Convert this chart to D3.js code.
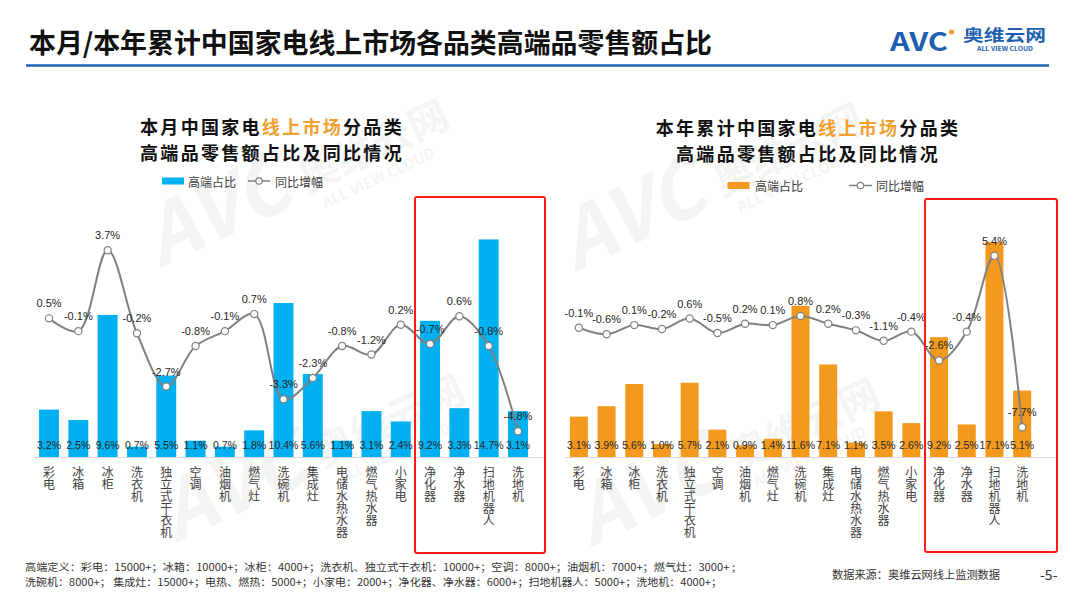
<!DOCTYPE html>
<html><head><meta charset="utf-8">
<script src="https://cdn.jsdelivr.net/npm/d3@7"></script>
<style>
body{margin:0;background:#fff}
svg{display:block}
text{font-family:"Noto Sans CJK SC","Noto Sans",sans-serif}
.num{font-family:"Liberation Sans",Arial,sans-serif}
.vert{writing-mode:vertical-rl;text-orientation:upright}
</style>
</head><body>
<svg id="c" width="1077" height="606"></svg>
<script>
// ---------- data ----------
const categories = ["彩电","冰箱","冰柜","洗衣机","独立式干衣机","空调","油烟机","燃气灶","洗碗机","集成灶","电储水热水器","燃气热水器","小家电","净化器","净水器","扫地机器人","洗地机"];
const monthShare = [3.2,2.5,9.6,0.7,5.5,1.1,0.7,1.8,10.4,5.6,1.1,3.1,2.4,9.2,3.3,14.7,3.1];
const monthYoY   = [0.5,-0.1,3.7,-0.2,-2.7,-0.8,-0.1,0.7,-3.3,-2.3,-0.8,-1.2,0.2,-0.7,0.6,-0.8,-4.8];
const ytdShare   = [3.1,3.9,5.6,1.0,5.7,2.1,0.9,1.4,11.6,7.1,1.1,3.5,2.6,9.2,2.5,17.1,5.1];
const ytdYoY     = [-0.1,-0.6,0.1,-0.2,0.6,-0.5,0.2,0.1,0.8,0.2,-0.3,-1.1,-0.4,-2.6,-0.4,5.4,-7.7];
const legendLabels = ["高端占比","同比增幅"];
const mainTitle = "本月/本年累计中国家电线上市场各品类高端品零售额占比";
const footer1 = "高端定义：彩电：15000+；冰箱：10000+；冰柜：4000+；洗衣机、独立式干衣机：10000+；空调：8000+；油烟机：7000+；燃气灶：3000+ ;";
const footer2 = "洗碗机：8000+； 集成灶：15000+；电热、燃热：5000+；小家电：2000+；净化器、净水器：6000+；扫地机器人：5000+；洗地机：4000+；";
const sourceText = "数据来源：奥维云网线上监测数据";

const svg = d3.select("#c");
svg.append("rect").attr("width",1077).attr("height",606).attr("fill","#fff");

// ---------- watermarks ----------
function watermark(tx, ty){
  const g = svg.append("g").attr("transform",`translate(${tx},${ty}) rotate(-25)`)
    .attr("fill","#7a7a7a").attr("opacity",0.08);
  g.append("text").attr("x",0).attr("y",0).attr("font-size",80).attr("font-weight","bold")
    .attr("font-style","italic").attr("font-family","Liberation Sans, Arial, sans-serif").text("AVC");
  g.append("text").attr("x",165).attr("y",-6).attr("font-size",40).attr("font-weight","bold").text("奥维云网");
  g.append("text").attr("x",175).attr("y",16).attr("font-size",15).attr("font-weight","bold")
    .attr("font-family","Liberation Sans, Arial, sans-serif").text("ALL VIEW CLOUD");
}
watermark(160,268); watermark(575,272); watermark(176,543); watermark(591,547);

// ---------- header ----------
svg.append("text").attr("x",29).attr("y",53).attr("font-size",27).attr("font-weight","bold")
  .attr("fill","#111").attr("textLength",683).attr("lengthAdjust","spacingAndGlyphs").text(mainTitle);
svg.append("line").attr("x1",26).attr("x2",1049).attr("y1",65.5).attr("y2",65.5)
  .attr("stroke","#1f66b3").attr("stroke-width",2.5);
// logo
svg.append("text").attr("x",890).attr("y",51).attr("font-size",25).attr("font-weight","bold")
  .attr("font-family","Liberation Sans, Arial, sans-serif").attr("fill","#1d5fb0")
  .attr("textLength",58).attr("lengthAdjust","spacingAndGlyphs").text("AVC");
svg.append("circle").attr("cx",951.5).attr("cy",32).attr("r",2.6).attr("fill","#f3a02a");
svg.append("text").attr("x",963).attr("y",41).attr("font-size",16).attr("font-weight","bold")
  .attr("fill","#1d5fb0").attr("textLength",83).attr("lengthAdjust","spacingAndGlyphs").text("奥维云网");
svg.append("text").attr("x",977).attr("y",51).attr("font-size",6).attr("font-weight","bold")
  .attr("font-family","Liberation Sans, Arial, sans-serif").attr("fill","#1d5fb0")
  .attr("textLength",56).attr("lengthAdjust","spacingAndGlyphs").text("ALL VIEW CLOUD");

// ---------- panels ----------
const panels = [
  { title1:["本月中国家电","线上市场","分品类"], title2:"高端品零售额占比及同比情况",
    cx:272, t1y:125.8, t2y:152.2, share:monthShare, yoy:monthYoY, color:"#00b0f0",
    band:[34.35,532.65], pin:0.32, barDom:[0,15], barRange:[457,235],
    lineDom:[-6,5], lineRange:[456.8,222.5], axis:[34,545],
    legend:{rx:162, cy:181, t1:188, l1:248, l2:270, t2:275},
    box:[415,197,130,356] },
  { title1:["本年累计中国家电","线上市场","分品类"], title2:"高端品零售额占比及同比情况",
    cx:808, t1y:126.5, t2y:152.9, share:ytdShare, yoy:ytdYoY, color:"#f39a1e",
    band:[565,1036], pin:0.35, barDom:[0,16.5], barRange:[457,242],
    lineDom:[-10,7], lineRange:[457.4,234.7], axis:[565,1057],
    legend:{rx:727.5, cy:185.5, t1:755, l1:849, l2:872, t2:876},
    box:[925,199,132,353] }
];

panels.forEach(p=>{
  // two-line title
  const t1 = svg.append("text").attr("x",p.cx).attr("y",p.t1y).attr("text-anchor","middle")
    .attr("dominant-baseline","central").attr("font-size",18).attr("letter-spacing",2.3)
    .attr("font-weight","bold").attr("fill","#111");
  p.title1.forEach((s,i)=>t1.append("tspan").attr("fill", i===1?"#f0a030":"#111").text(s));
  svg.append("text").attr("x",p.cx).attr("y",p.t2y).attr("text-anchor","middle")
    .attr("dominant-baseline","central").attr("font-size",18).attr("letter-spacing",2.3)
    .attr("font-weight","bold").attr("fill","#111").text(p.title2);

  // legend
  const L = p.legend;
  svg.append("rect").attr("x",L.rx).attr("y",L.cy-3.5).attr("width",22).attr("height",7).attr("fill",p.color);
  svg.append("text").attr("x",L.t1).attr("y",L.cy).attr("dominant-baseline","central").attr("font-size",12).attr("fill","#404040").text(legendLabels[0]);
  svg.append("line").attr("x1",L.l1).attr("x2",L.l2).attr("y1",L.cy).attr("y2",L.cy).attr("stroke","#808080").attr("stroke-width",1.5);
  svg.append("circle").attr("cx",(L.l1+L.l2)/2).attr("cy",L.cy).attr("r",3.2).attr("fill","#fff").attr("stroke","#808080").attr("stroke-width",1.2);
  svg.append("text").attr("x",L.t2).attr("y",L.cy).attr("dominant-baseline","central").attr("font-size",12).attr("fill","#404040").text(legendLabels[1]);

  // scales
  const x = d3.scaleBand().domain(categories).range(p.band).paddingInner(p.pin).paddingOuter(p.pin/2);
  const yb = d3.scaleLinear().domain(p.barDom).range(p.barRange).clamp(true);
  const yl = d3.scaleLinear().domain(p.lineDom).range(p.lineRange);

  // axis line
  svg.append("line").attr("x1",p.axis[0]).attr("x2",p.axis[1]).attr("y1",457.5).attr("y2",457.5)
    .attr("stroke","#d9d9d9").attr("stroke-width",1);

  // bars
  svg.append("g").selectAll("rect").data(p.share).join("rect")
    .attr("x",(d,i)=>x(categories[i])).attr("width",x.bandwidth())
    .attr("y",d=>yb(d)).attr("height",d=>yb(0)-yb(d)).attr("fill",p.color);

  // bar labels
  svg.append("g").selectAll("text").data(p.share).join("text").attr("class","num")
    .attr("x",(d,i)=>x(categories[i])+x.bandwidth()/2).attr("y",444.5)
    .attr("text-anchor","middle").attr("dominant-baseline","central")
    .attr("font-size",10.5).attr("fill","#262626")
    .text(d=>d.toFixed(1)+"%");

  // category labels (vertical, one text per category)
  svg.append("g").selectAll("text").data(categories).join("text").attr("class","vert")
    .attr("x",c=>x(c)+x.bandwidth()/2).attr("y",466.4)
    .attr("font-size",12).attr("letter-spacing",0.1).attr("fill","#404040")
    .text(c=>c);

  // line
  const pts = p.yoy.map((v,i)=>[x(categories[i])+x.bandwidth()/2, yl(v)]);
  svg.append("path").attr("d",d3.line().curve(d3.curveCatmullRom.alpha(0.5))(pts))
    .attr("fill","none").attr("stroke","#808080").attr("stroke-width",2);
  svg.append("g").selectAll("circle").data(pts).join("circle")
    .attr("cx",d=>d[0]).attr("cy",d=>d[1]).attr("r",3.6)
    .attr("fill","#fff").attr("stroke","#808080").attr("stroke-width",1.2);
  svg.append("g").selectAll("text").data(p.yoy).join("text").attr("class","num")
    .attr("x",(d,i)=>pts[i][0]).attr("y",(d,i)=>pts[i][1]-15)
    .attr("text-anchor","middle").attr("dominant-baseline","central")
    .attr("font-size",11).attr("fill","#262626")
    .text(d=>d.toFixed(1)+"%");

  // red highlight box
  svg.append("rect").attr("x",p.box[0]).attr("y",p.box[1]).attr("width",p.box[2]).attr("height",p.box[3])
    .attr("rx",2).attr("fill","none").attr("stroke","#ff1a1a").attr("stroke-width",2);
});

// ---------- footer ----------
svg.append("text").attr("x",25).attr("y",571).attr("font-size",10).attr("fill","#333")
  .attr("textLength",710).attr("lengthAdjust","spacingAndGlyphs").text(footer1);
svg.append("text").attr("x",25).attr("y",586).attr("font-size",10).attr("fill","#333")
  .attr("textLength",697).attr("lengthAdjust","spacingAndGlyphs").text(footer2);
svg.append("text").attr("x",832).attr("y",579).attr("font-size",11).attr("fill","#333")
  .attr("textLength",168).attr("lengthAdjust","spacingAndGlyphs").text(sourceText);
svg.append("text").attr("x",1040).attr("y",580).attr("font-size",14).attr("fill","#333")
  .attr("font-family","Liberation Sans, Arial, sans-serif").text("-5-");
</script>
</body></html>
